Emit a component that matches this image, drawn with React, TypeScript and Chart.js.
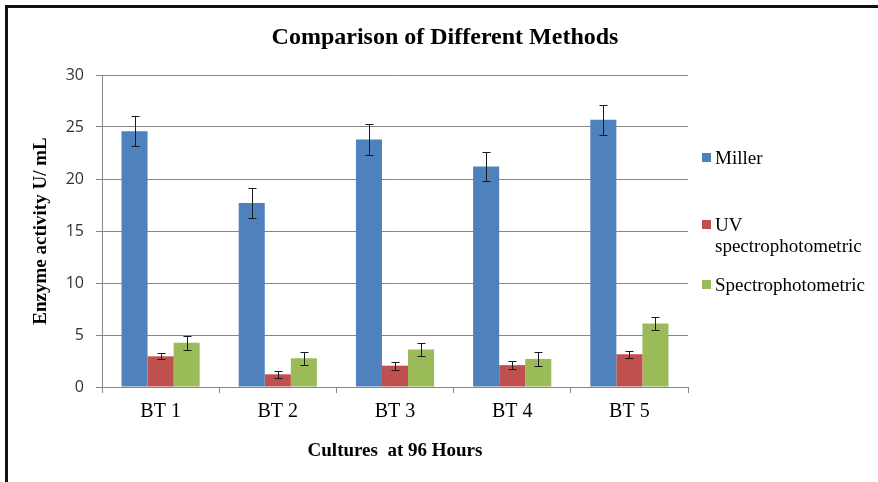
import React, { useEffect, useRef } from "react";
import { Chart, registerables } from "chart.js";

Chart.register(...registerables);

const categories = ["BT 1", "BT 2", "BT 3", "BT 4", "BT 5"];
const millerValues = [24.6, 17.7, 23.8, 21.2, 25.7];
const millerErrors = [1.45, 1.45, 1.45, 1.43, 1.45];
const uvValues = [2.95, 1.22, 2.05, 2.1, 3.15];
const uvErrors = [0.3, 0.33, 0.37, 0.37, 0.32];
const spectroValues = [4.25, 2.76, 3.6, 2.7, 6.1];
const spectroErrors = [0.65, 0.65, 0.62, 0.64, 0.66];
const seriesNames = ["Miller", "UV spectrophotometric", "Spectrophotometric"];
const seriesColors = ["#4F81BD", "#C0504D", "#9BBB59"];
const chartTitle = "Comparison of Different Methods";
const xAxisTitle = "Cultures  at 96 Hours";
const yAxisTitle = "Enzyme activity U/ mL";
const yMin = 0;
const yMax = 30;
const yStep = 5;

const allErrors = [millerErrors, uvErrors, spectroErrors];

const errorBarPlugin = {
  id: "errorBars",
  afterDatasetsDraw(chart: any) {
    const ctx = chart.ctx;
    const yScale = chart.scales.y;
    ctx.save();
    ctx.strokeStyle = "#1a1a1a";
    ctx.lineWidth = 1;
    chart.data.datasets.forEach((ds: any, di: number) => {
      const meta = chart.getDatasetMeta(di);
      const errs = allErrors[di];
      meta.data.forEach((el: any, i: number) => {
        const v = ds.data[i];
        const e = errs[i];
        const x = Math.round(el.x) + 0.5;
        const yt = Math.round(yScale.getPixelForValue(v + e)) + 0.5;
        const yb = Math.round(yScale.getPixelForValue(v - e)) + 0.5;
        ctx.beginPath();
        ctx.moveTo(x, yt);
        ctx.lineTo(x, yb);
        ctx.moveTo(x - 4, yt);
        ctx.lineTo(x + 4, yt);
        ctx.moveTo(x - 4, yb);
        ctx.lineTo(x + 4, yb);
        ctx.stroke();
      });
    });
    ctx.restore();
  },
};

const legendItems = [
  { lines: ["Miller"], top: 147, color: seriesColors[0] },
  { lines: ["UV", "spectrophotometric"], top: 214, color: seriesColors[1] },
  { lines: ["Spectrophotometric"], top: 274, color: seriesColors[2] },
];

export default function App() {
  const canvasRef = useRef<HTMLCanvasElement | null>(null);

  useEffect(() => {
    if (!canvasRef.current) return;
    const values = [millerValues, uvValues, spectroValues];
    const chart = new Chart(canvasRef.current, {
      type: "bar",
      data: {
        labels: categories,
        datasets: seriesNames.map((name, i) => ({
          label: name,
          data: values[i],
          backgroundColor: seriesColors[i],
          borderWidth: 0,
          categoryPercentage: 0.667,
          barPercentage: 1.0,
        })),
      },
      options: {
        animation: false,
        responsive: false,
        devicePixelRatio: 1,
        layout: { padding: { left: 0, top: 75, right: 190, bottom: 0 } },
        plugins: {
          legend: { display: false },
          title: { display: false },
          tooltip: { enabled: false },
        },
        scales: {
          x: {
            offset: true,
            grid: {
              display: true,
              drawOnChartArea: false,
              drawTicks: true,
              tickLength: 6,
              color: "#868686",
              offset: true,
            },
            border: { color: "#868686" },
            ticks: {
              color: "#000",
              font: { family: "'Liberation Serif', 'Times New Roman', serif", size: 20 },
              padding: 7,
            },
            title: {
              display: true,
              text: xAxisTitle,
              color: "#000",
              font: { family: "'Liberation Serif', 'Times New Roman', serif", size: 19, weight: "bold" },
              padding: { top: 0, bottom: 20 },
            },
            afterFit: (s: any) => {
              s.height = 95;
            },
          },
          y: {
            min: yMin,
            max: yMax,
            ticks: {
              stepSize: yStep,
              color: "#333",
              font: { family: "'Open Sans', sans-serif", size: 16 },
              padding: 12,
            },
            grid: { color: "#868686", tickLength: 6, lineWidth: 1 },
            border: { color: "#868686" },
            title: {
              display: true,
              text: yAxisTitle,
              color: "#000",
              font: { family: "'Liberation Serif', 'Times New Roman', serif", size: 19, weight: "bold" },
              padding: { top: 30, bottom: 0 },
            },
            afterFit: (s: any) => {
              s.width = 102;
            },
          },
        },
      },
      plugins: [errorBarPlugin],
    });
    return () => chart.destroy();
  }, []);

  return (
    <div
      style={{
        position: "absolute",
        left: 0,
        top: 0,
        width: 878,
        height: 482,
        background: "#fff",
        overflow: "hidden",
      }}
    >
      <canvas
        ref={canvasRef}
        width={878}
        height={482}
        style={{ position: "absolute", left: 0, top: 0, width: 878, height: 482 }}
      />
      <div
        style={{
          position: "absolute",
          left: 5,
          top: 5,
          width: 873,
          height: 477,
          borderLeft: "3px solid #111",
          borderTop: "3px solid #111",
          boxSizing: "border-box",
          pointerEvents: "none",
        }}
      />
      <div
        style={{
          position: "absolute",
          left: 445,
          top: 24,
          transform: "translateX(-50%)",
          whiteSpace: "nowrap",
          fontFamily: "'Liberation Serif', 'Times New Roman', serif",
          fontWeight: "bold",
          fontSize: 24,
          lineHeight: "24px",
          color: "#000",
        }}
      >
        {chartTitle}
      </div>
      {legendItems.map((item, i) => (
        <div
          key={i}
          style={{
            position: "absolute",
            left: 702,
            top: item.top,
            fontFamily: "'Liberation Serif', 'Times New Roman', serif",
            fontSize: 19,
            lineHeight: "21px",
            color: "#000",
            whiteSpace: "nowrap",
          }}
        >
          <span
            style={{
              position: "absolute",
              left: 0,
              top: 6,
              width: 9,
              height: 9,
              background: item.color,
            }}
          />
          <div style={{ marginLeft: 13 }}>
            {item.lines.map((l, j) => (
              <div key={j}>{l}</div>
            ))}
          </div>
        </div>
      ))}
    </div>
  );
}
